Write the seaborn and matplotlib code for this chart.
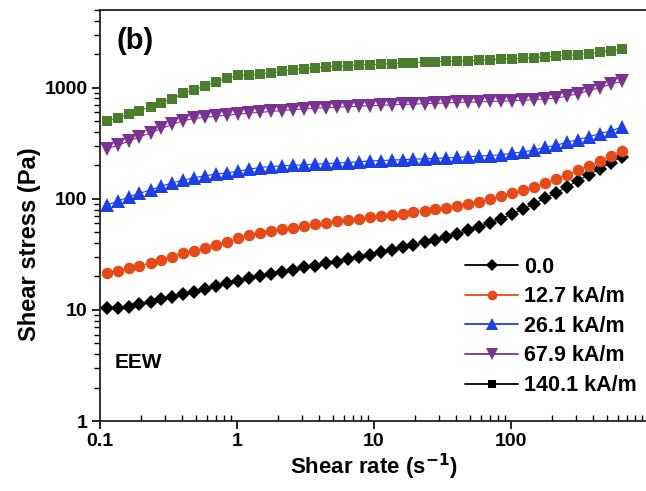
# shear stress vs shear rate, log-log (EEW, panel b)
import numpy as np
import pandas as pd
import matplotlib
matplotlib.use("Agg")
import matplotlib.pyplot as plt
from matplotlib.lines import Line2D
import matplotlib.ticker as mticker
import seaborn as sns

sns.set_style("ticks")
plt.rcParams["font.family"] = ["Liberation Sans", "DejaVu Sans"]
plt.rcParams["font.weight"] = "bold"
plt.rcParams["text.color"] = "black"
plt.rcParams["axes.labelcolor"] = "black"
plt.rcParams["xtick.color"] = "black"
plt.rcParams["ytick.color"] = "black"

# ==============================
# DATA
# ==============================
shear_rate = [0.112, 0.135, 0.162, 0.194, 0.234, 0.281, 0.338, 0.406, 0.488, 0.587,
              0.706, 0.849, 1.02, 1.23, 1.47, 1.77, 2.13, 2.56, 3.08, 3.70,
              4.45, 5.35, 6.43, 7.73, 9.29, 11.2, 13.5, 16.2, 19.4, 23.4,
              28.1, 33.8, 40.6, 48.8, 58.7, 70.6, 84.9, 102, 123, 147,
              177, 213, 256, 308, 370, 445, 535, 643]

stress_0 = [10.5, 10.4, 10.7, 11.3, 11.7, 12.5, 13.0, 13.8, 14.6, 15.5,
            16.5, 17.4, 18.3, 19.3, 20.0, 21.1, 22.1, 22.9, 24.2, 24.9,
            26.4, 27.2, 28.6, 30.2, 31.3, 33.0, 34.7, 36.6, 38.5, 40.6,
            42.7, 45.5, 48.4, 52.0, 56.0, 60.8, 66.1, 73.3, 81.3, 90.2,
            101, 113, 128, 145, 165, 186, 211, 239]

stress_12_7 = [21.7, 22.6, 23.8, 24.9, 26.4, 28.2, 30.2, 32.4, 34.0, 36.4,
               38.5, 40.7, 44.3, 46.9, 49.1, 51.2, 53.1, 55.1, 57.1, 59.2,
               61.1, 62.7, 64.7, 66.1, 67.9, 69.6, 71.3, 73.3, 75.5, 78.0,
               80.4, 83.0, 85.9, 89.6, 94.0, 98.9, 105, 112, 120, 128,
               138, 150, 165, 180, 198, 220, 244, 271]

stress_26_1 = [88.0, 95.0, 104, 112, 120, 130, 139, 147, 155, 161,
               167, 171, 177, 185, 191, 195, 198, 200, 202, 205,
               207, 210, 212, 215, 219, 221, 223, 225, 227, 229,
               231, 233, 236, 239, 242, 245, 249, 257, 265, 274,
               290, 303, 322, 341, 362, 385, 410, 440]

stress_67_9 = [283, 303, 330, 360, 392, 430, 468, 503, 530, 542,
               553, 565, 577, 589, 599, 611, 621, 634, 643, 654,
               661, 667, 674, 681, 689, 694, 700, 706, 712, 718,
               723, 729, 736, 741, 746, 751, 755, 764, 771, 780,
               791, 807, 838, 883, 940, 1000, 1076, 1140]

stress_140_1 = [505, 535, 575, 618, 675, 735, 796, 890, 955, 1040,
                1130, 1220, 1290, 1300, 1330, 1357, 1403, 1452, 1483, 1504,
                1535, 1556, 1578, 1601, 1611, 1629, 1645, 1663, 1679, 1698,
                1714, 1726, 1742, 1750, 1770, 1786, 1807, 1824, 1845, 1862,
                1884, 1923, 1954, 1982, 2023, 2090, 2140, 2220]

labels = ["0.0", "12.7 kA/m", "26.1 kA/m", "67.9 kA/m", "140.1 kA/m"]
series = [stress_0, stress_12_7, stress_26_1, stress_67_9, stress_140_1]
colors = ["#000000", "#e64a19", "#1c3fe6", "#7a3391", "#4a7d2c"]
legend_line_colors = ["#000000", "#e64a19", "#1c3fe6", "#7a3391", "#000000"]
legend_marker_colors = ["#000000", "#e64a19", "#1c3fe6", "#7a3391", "#000000"]
markers = ["D", "o", "^", "v", "s"]
sizes = [7.5, 8.3, 9.5, 9.5, 7.8]
legend_sizes = [6, 7, 8, 8, 6]

# ==============================
# PLOT
# ==============================
fig = plt.figure(figsize=(6.46, 4.91), dpi=100)
ax = fig.add_axes([100 / 646, 70 / 491, 548 / 646, 411 / 491])

for lab, ys, c, m, s in zip(labels, series, colors, markers, sizes):
    df = pd.DataFrame({"rate": shear_rate, "stress": ys})
    sns.lineplot(data=df, x="rate", y="stress", ax=ax, color=c, marker=m,
                 markersize=s, markeredgewidth=0, linewidth=0.8, legend=False)

ax.set_xscale("log")
ax.set_yscale("log")
ax.set_xlim(0.1, 1000)
ax.set_ylim(1, 5000)

ax.xaxis.set_major_formatter(mticker.FuncFormatter(lambda v, p: f"{v:g}"))
ax.yaxis.set_major_formatter(mticker.FuncFormatter(lambda v, p: f"{v:g}"))
ax.set_xticks([0.1, 1, 10, 100])
ax.set_yticks([1, 10, 100, 1000])
ax.xaxis.set_minor_locator(mticker.LogLocator(base=10, subs=np.arange(2, 10)))
ax.yaxis.set_minor_locator(mticker.LogLocator(base=10, subs=np.arange(2, 10)))
ax.xaxis.set_minor_formatter(mticker.NullFormatter())
ax.yaxis.set_minor_formatter(mticker.NullFormatter())

ax.tick_params(axis="both", which="major", direction="out", length=6, width=1.2,
               labelsize=14, pad=3)
ax.tick_params(axis="x", which="minor", direction="in", length=4, width=1)
ax.tick_params(axis="y", which="minor", direction="out", length=4, width=1)
for lbl in ax.get_xticklabels() + ax.get_yticklabels():
    lbl.set_fontweight("bold")

for side in ["left", "bottom", "top", "right"]:
    ax.spines[side].set_linewidth(1.3)
    ax.spines[side].set_color("#222222")

ax.set_xlabel("Shear rate (s$^{\\mathbf{-1}}$)", fontsize=16, fontweight="bold", labelpad=1)
ax.set_ylabel("Shear stress (Pa)", fontsize=17, fontweight="bold")
ax.yaxis.set_label_coords(-0.108, 0.43)

ax.text(0.031, 0.925, "(b)", transform=ax.transAxes, fontsize=21, fontweight="bold",
        va="center", ha="left")
ax.text(0.027, 0.143, "EEW", transform=ax.transAxes, fontsize=15, fontweight="bold",
        va="center", ha="left")

handles = [Line2D([], [], color=lc, marker=m, markerfacecolor=mc, markeredgewidth=0,
                  markersize=s, linewidth=1.3)
           for lc, mc, m, s in zip(legend_line_colors, legend_marker_colors, markers, legend_sizes)]
ax.legend(handles, labels, loc="upper left", bbox_to_anchor=(456 / 646, 1 - 248 / 491),
          bbox_transform=fig.transFigure, frameon=False, handlelength=2.5,
          handletextpad=0.25, labelspacing=0.4, borderaxespad=0,
          prop={"weight": "bold", "size": 15.5})

fig.savefig("out.png", dpi=100)
